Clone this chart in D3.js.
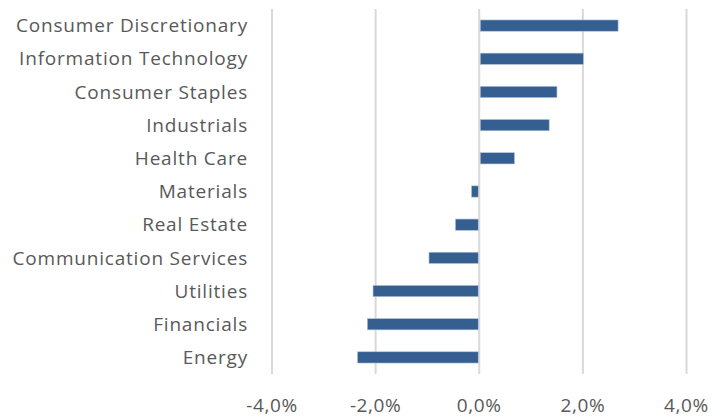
<!DOCTYPE html>
<html>
<head>
<meta charset="utf-8">
<script src="https://cdn.jsdelivr.net/npm/d3@7"></script>
<style>
  body { margin: 0; background: #fff; }
  text { font-family: "Open Sans", "Noto Sans", sans-serif; fill: #595959; }
</style>
</head>
<body>
<div id="canvas"></div>
<script>
"use strict"

/* Data */
let sectors = ["Consumer Discretionary", "Information Technology", "Consumer Staples",
    "Industrials", "Health Care", "Materials", "Real Estate", "Communication Services",
    "Utilities", "Financials", "Energy"];
let returns = [2.68, 2.01, 1.50, 1.35, 0.68, -0.15, -0.46, -0.97, -2.05, -2.16, -2.35];
let tickValues = [-4, -2, 0, 2, 4];

/* Drawing config */
let svgWidth = 714;
let svgHeight = 417;
let plotLeft = 272, plotRight = 686.5, plotTop = 9, plotBottom = 374;

let svg = d3.select("#canvas")
    .append("svg")
    .attr("width", svgWidth)
    .attr("height", svgHeight);

let x = d3.scaleLinear()
    .domain([-4, 4])
    .range([plotLeft, plotRight]);

let y = d3.scaleBand()
    .domain(sectors)
    .range([plotTop, plotBottom])
    .paddingInner(0.66)
    .paddingOuter(0.33);

/* gridlines */
svg.append("g")
    .selectAll("line")
    .data(tickValues)
    .join("line")
    .attr("x1", d => x(d))
    .attr("x2", d => x(d))
    .attr("y1", plotTop)
    .attr("y2", plotBottom)
    .attr("stroke", "#d9d9d9")
    .attr("stroke-width", 2);

/* bars */
svg.append("g")
    .selectAll("rect")
    .data(returns)
    .join("rect")
    .attr("x", (d, i) => d >= 0 ? x(0) + 1 : x(d))
    .attr("width", (d, i) => d >= 0 ? x(d) - x(0) - 1 : x(0) - x(d) - 1)
    .attr("y", (d, i) => y(sectors[i]))
    .attr("height", y.bandwidth())
    .attr("fill", "#365f91")
    .attr("stroke", "#b4c3d8")
    .attr("stroke-width", 0.6);

/* category labels */
svg.append("g")
    .selectAll("text")
    .data(sectors)
    .join("text")
    .attr("x", 248)
    .attr("y", d => y(d) + y.bandwidth() / 2)
    .attr("dy", "0.35em")
    .attr("text-anchor", "end")
    .attr("font-size", 19)
    .attr("letter-spacing", 0.8)
    .text(d => d);

/* x tick labels */
svg.append("g")
    .selectAll("text")
    .data(tickValues)
    .join("text")
    .attr("x", d => x(d))
    .attr("y", 412)
    .attr("text-anchor", "middle")
    .attr("font-size", 19)
    .attr("letter-spacing", 0.6)
    .text(d => d3.format(".1f")(d).replace(".", ",").replace("−", "-") + "%");
</script>
</body>
</html>
